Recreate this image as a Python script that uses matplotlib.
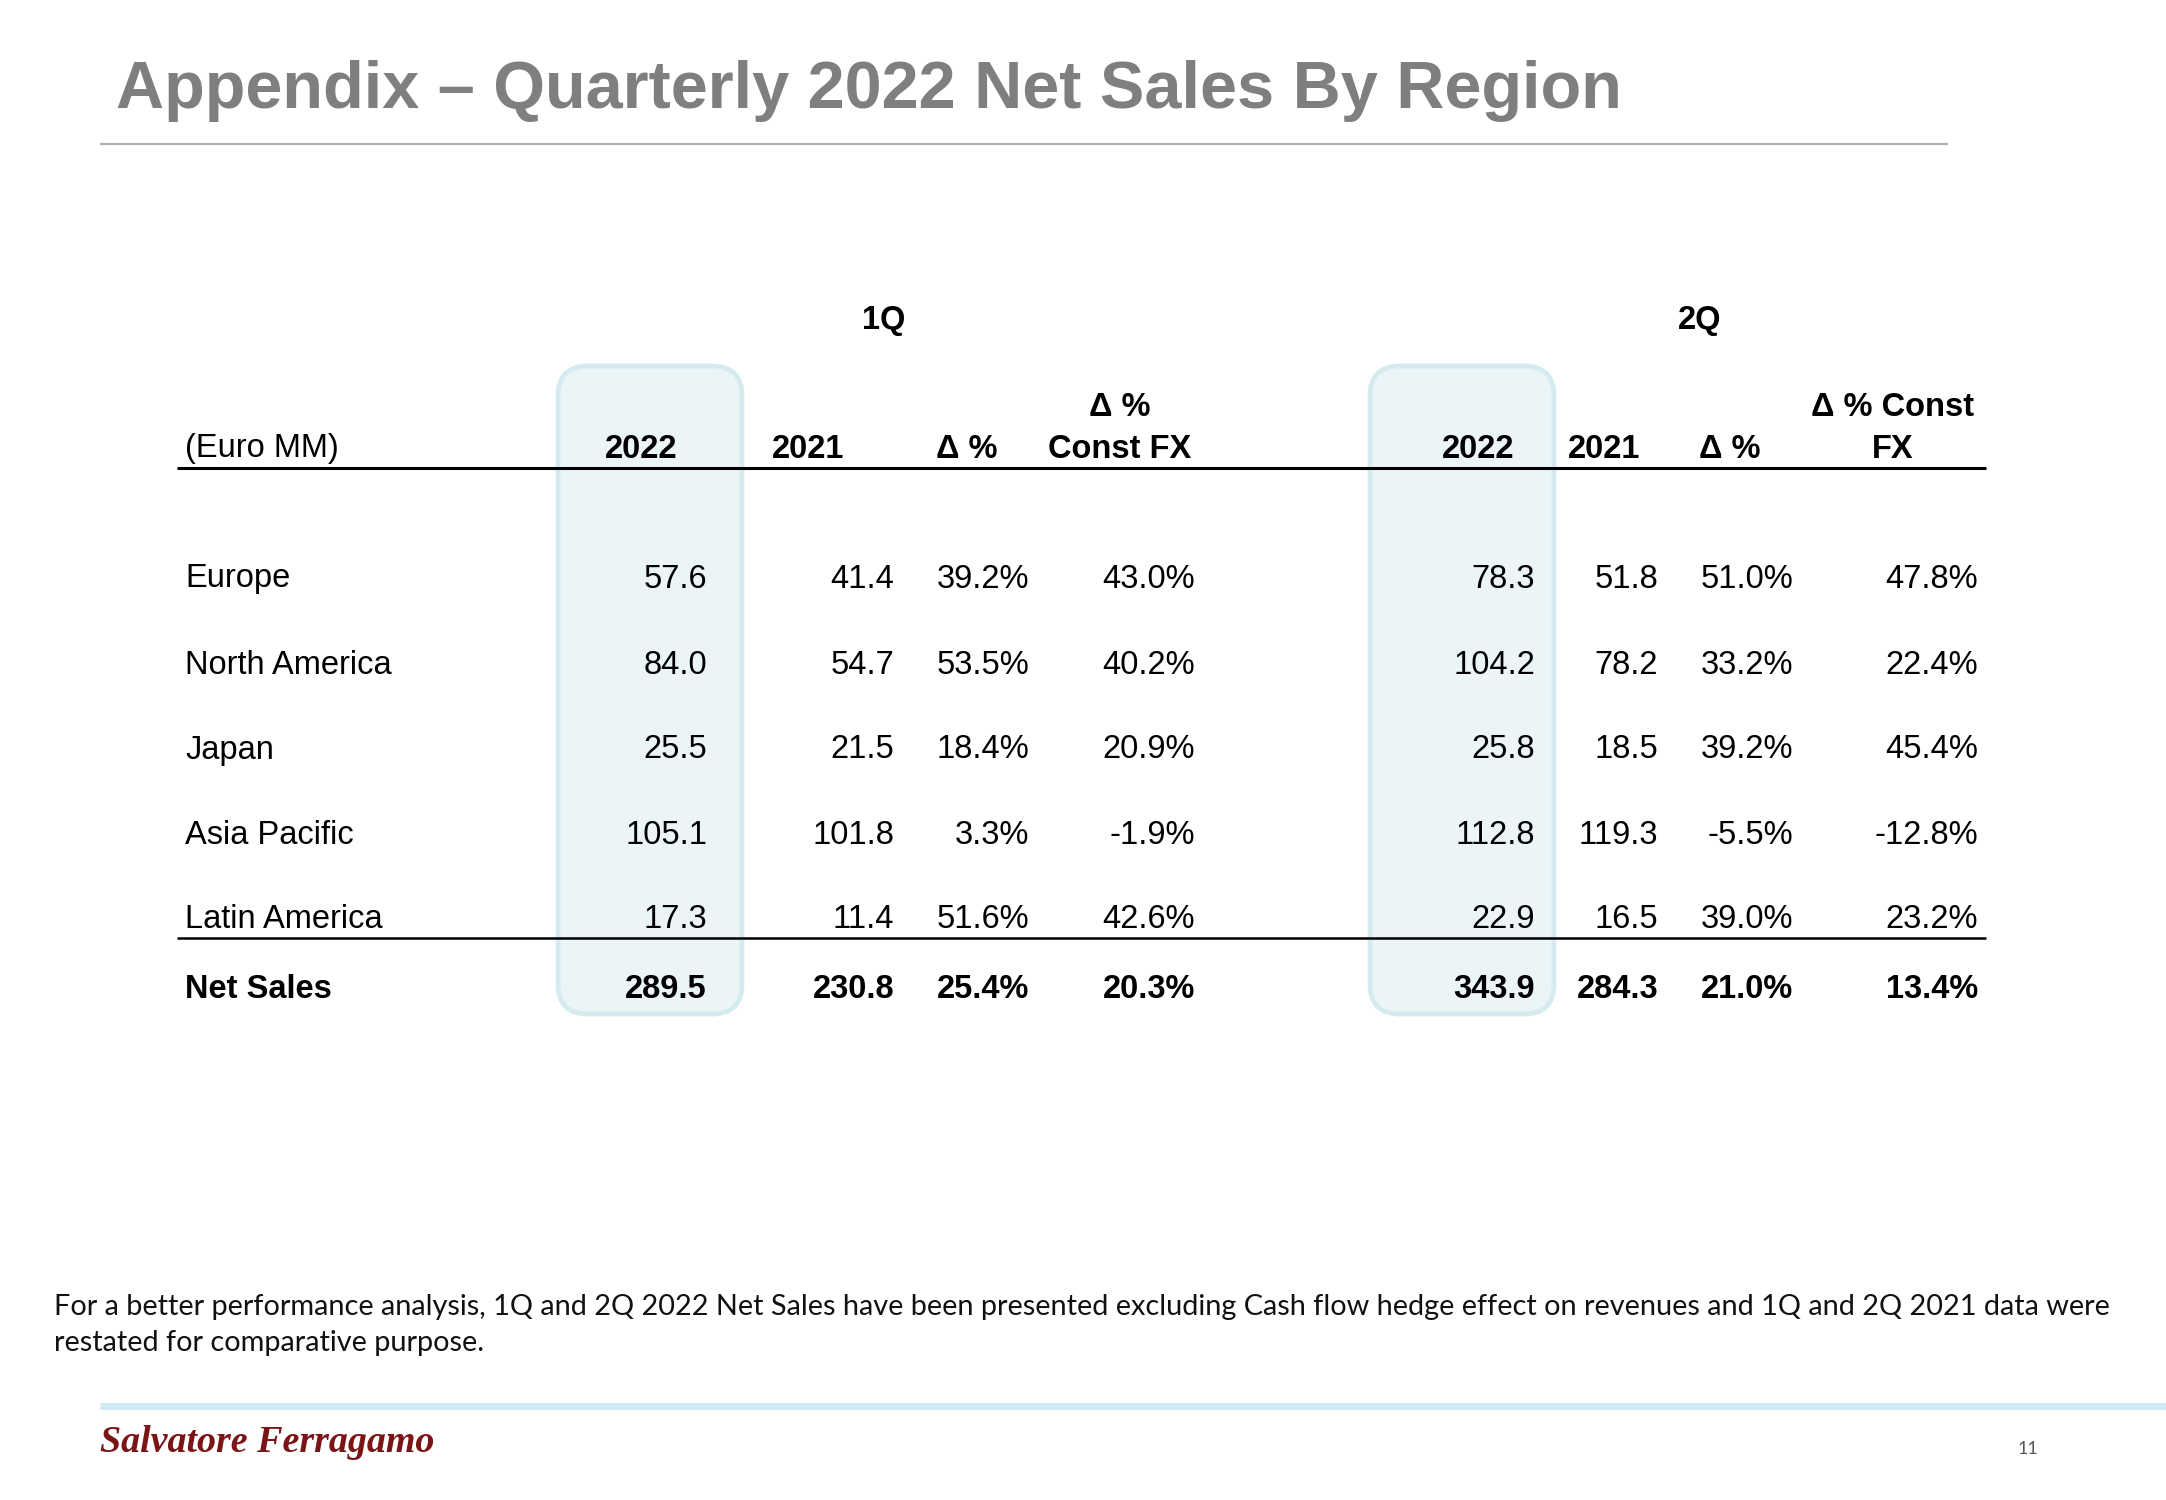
import matplotlib
matplotlib.use("Agg")
import matplotlib.pyplot as plt
from matplotlib.patches import FancyBboxPatch

# ---------------- data ----------------
title = "Appendix \u2013 Quarterly 2022 Net Sales By Region"
unit_label = "(Euro MM)"
quarters = ["1Q", "2Q"]
headers_1q = ["2022", "2021", "\u0394 %", "\u0394 %\nConst FX"]
headers_2q = ["2022", "2021", "\u0394 %", "\u0394 % Const\nFX"]
regions = ["Europe", "North America", "Japan", "Asia Pacific", "Latin America"]
total_label = "Net Sales"

q1_2022 = [57.6, 84.0, 25.5, 105.1, 17.3]
q1_2021 = [41.4, 54.7, 21.5, 101.8, 11.4]
q1_delta = [39.2, 53.5, 18.4, 3.3, 51.6]
q1_fx = [43.0, 40.2, 20.9, -1.9, 42.6]
q1_total = [289.5, 230.8, 25.4, 20.3]

q2_2022 = [78.3, 104.2, 25.8, 112.8, 22.9]
q2_2021 = [51.8, 78.2, 18.5, 119.3, 16.5]
q2_delta = [51.0, 33.2, 39.2, -5.5, 39.0]
q2_fx = [47.8, 22.4, 45.4, -12.8, 23.2]
q2_total = [343.9, 284.3, 21.0, 13.4]

footnote = ("For a better performance analysis, 1Q and 2Q 2022 Net Sales have been presented excluding Cash flow hedge "
            "effect on revenues and 1Q and 2Q 2021 data were\nrestated for comparative purpose.")
logo_text = "Salvatore Ferragamo"
page_no = "11"

# ---------------- layout ----------------
W, H = 2166, 1500
fig = plt.figure(figsize=(W / 100, H / 100), dpi=100)
ax = fig.add_axes([0, 0, 1, 1])
ax.set_xlim(0, W)
ax.set_ylim(H, 0)
ax.axis("off")

FONT = "Liberation Sans"
FS = 23.5
DY = 3  # small visual offset for centred text

# title
ax.text(116, 91, title, fontsize=48, fontweight="bold", color="#7F7F7F",
        va="center", ha="left", family=FONT)
ax.plot([100, 1948], [144, 144], color="#B0B0B0", lw=1.6, solid_capstyle="butt")

# highlight boxes
for x0, x1 in [(558, 742), (1370, 1554)]:
    box = FancyBboxPatch((x0, 366), x1 - x0, 1014 - 366,
                         boxstyle="round,pad=0,rounding_size=30",
                         facecolor="#EBF5F8", edgecolor="#D6EBF0", lw=3.5, zorder=0)
    ax.add_patch(box)

# quarter titles
for q, x in zip(quarters, [884, 1700]):
    ax.text(x, 318 + DY, q, fontsize=FS, fontweight="bold", ha="center", va="center", family=FONT)

# headers
ax.text(185, 446 + DY, unit_label, fontsize=FS, ha="left", va="center", family=FONT)
hdr_centers_1q = [641, 808, 967, 1120]
hdr_centers_2q = [1478, 1604, 1730, 1893]
for hdrs, cxs in [(headers_1q, hdr_centers_1q), (headers_2q, hdr_centers_2q)]:
    for h, cx in zip(hdrs, cxs):
        lines = h.split("\n")
        for i, ln in enumerate(reversed(lines)):
            ax.text(cx, 446 + DY - 41 * i, ln, fontsize=FS, fontweight="bold",
                    ha="center", va="center", family=FONT)

ax.plot([177, 1986], [468, 468], color="black", lw=2.2, solid_capstyle="butt")
ax.plot([177, 1986], [938, 938], color="black", lw=1.8, solid_capstyle="butt")

# data rows
row_y = [576, 662, 747, 833, 917]
total_y = 986
col_right = [707, 894, 1029, 1195, 1535, 1658, 1793, 1978]


def fmt_num(v):
    return f"{v:.1f}"


def fmt_pct(v):
    return f"{v:.1f}%"


cols = [(q1_2022, fmt_num), (q1_2021, fmt_num), (q1_delta, fmt_pct), (q1_fx, fmt_pct),
        (q2_2022, fmt_num), (q2_2021, fmt_num), (q2_delta, fmt_pct), (q2_fx, fmt_pct)]

for i, (reg, y) in enumerate(zip(regions, row_y)):
    ax.text(185, y + DY, reg, fontsize=FS, ha="left", va="center", family=FONT)
    for (vals, f), xr in zip(cols, col_right):
        ax.text(xr, y + DY, f(vals[i]), fontsize=FS, ha="right", va="center", family=FONT)

ax.text(185, total_y + DY, total_label, fontsize=FS, fontweight="bold", ha="left", va="center", family=FONT)
tot_vals = q1_total + q2_total
tot_fmt = [fmt_num, fmt_num, fmt_pct, fmt_pct] * 2
for v, f, xr in zip(tot_vals, tot_fmt, col_right):
    ax.text(xr, total_y + DY, f(v), fontsize=FS, fontweight="bold", ha="right", va="center", family=FONT)

# footnote
fn = ax.text(54, 1325, footnote, fontsize=18, ha="left", va="center", family="Lato",
             color="#111111", linespacing=1.45)
fig.canvas.draw()
r = fig.canvas.get_renderer()
first = ax.text(54, 1304, footnote.split("\n")[0], fontsize=18, family="Lato")
bb = first.get_window_extent(r)
scale = 2057 / bb.width
first.remove()
fn.set_fontsize(18 * scale)

# bottom band
ax.plot([100, W], [1406, 1406], color="#CFE9F6", lw=5, solid_capstyle="butt")

# logo
lg = ax.text(100, 1442, logo_text, fontsize=30, family="Liberation Serif", style="italic",
             fontweight="bold", color="#7A1416", ha="left", va="center")
fig.canvas.draw()
bb = lg.get_window_extent(r)
lg.set_fontsize(30 * 335 / bb.width)

ax.text(2028, 1449, page_no, fontsize=13, family="Lato", color="#595959", ha="center", va="center")

fig.savefig("out.png", dpi=100)
